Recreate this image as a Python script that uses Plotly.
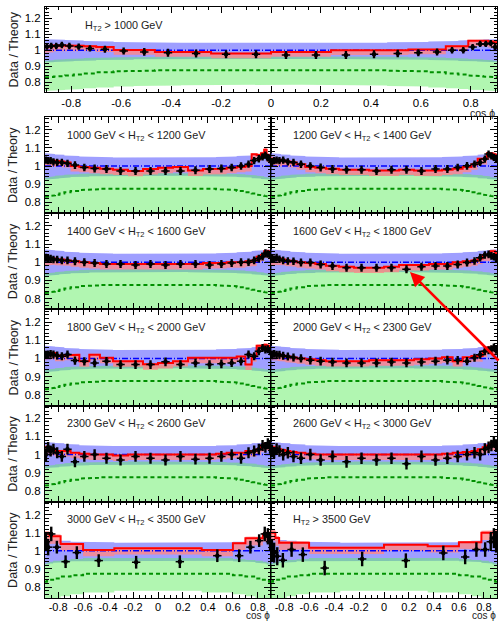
import plotly.graph_objects as go

# ---------------- binning ----------------
edges_fine = [-0.905, -0.89, -0.87, -0.85, -0.825, -0.79, -0.75, -0.70, -0.63, -0.55, -0.465, -0.36, -0.24, -0.12, 0.0,
              0.12, 0.24, 0.36, 0.465, 0.55, 0.63, 0.70, 0.75, 0.79, 0.825, 0.85, 0.87, 0.89, 0.905]
edges_coarse = [-0.905, -0.89, -0.87, -0.84, -0.78, -0.70, -0.60, -0.35, 0.0, 0.35, 0.60, 0.70, 0.78, 0.84, 0.87, 0.89, 0.905]

# ---------------- shared uncertainty bands ----------------
blue_hi_fine = [1.07, 1.07, 1.068, 1.066, 1.064, 1.062, 1.058, 1.055, 1.052, 1.05, 1.048, 1.047, 1.046, 1.045,
                1.045, 1.046, 1.047, 1.048, 1.05, 1.052, 1.055, 1.058, 1.062, 1.064, 1.066, 1.068, 1.07, 1.07]
blue_lo_fine = [0.925, 0.925, 0.927, 0.929, 0.931, 0.933, 0.936, 0.939, 0.941, 0.943, 0.944, 0.945, 0.946, 0.946,
                0.946, 0.946, 0.945, 0.944, 0.943, 0.941, 0.939, 0.936, 0.933, 0.931, 0.929, 0.927, 0.925, 0.925]
green_mid_fine = [0.83, 0.832, 0.835, 0.838, 0.842, 0.848, 0.855, 0.862, 0.868, 0.872, 0.875, 0.877, 0.878, 0.878,
                  0.878, 0.878, 0.877, 0.875, 0.872, 0.868, 0.862, 0.855, 0.848, 0.842, 0.838, 0.835, 0.832, 0.83]
green_hi_fine = [0.935, 0.937, 0.94, 0.943, 0.946, 0.949, 0.952, 0.955, 0.957, 0.959, 0.96, 0.961, 0.962, 0.962,
                 0.962, 0.962, 0.961, 0.96, 0.959, 0.957, 0.955, 0.952, 0.949, 0.946, 0.943, 0.94, 0.937, 0.935]
green_lo_top = [0.745, 0.746, 0.748, 0.75, 0.753, 0.757, 0.762, 0.767, 0.772, 0.776, 0.779, 0.781, 0.783, 0.784,
                0.784, 0.783, 0.781, 0.779, 0.776, 0.772, 0.767, 0.762, 0.757, 0.753, 0.75, 0.748, 0.746, 0.745]
green_lo_fine = [0.68, 0.682, 0.685, 0.688, 0.692, 0.697, 0.702, 0.708, 0.713, 0.717, 0.72, 0.722, 0.723, 0.724,
                 0.724, 0.723, 0.722, 0.72, 0.717, 0.713, 0.708, 0.702, 0.697, 0.692, 0.688, 0.685, 0.682, 0.68]
red_up_fine = [0.012, 0.01, 0.009, 0.008, 0.007, 0.006, 0.006, 0.005, 0.005, 0.005, 0.005, 0.005, 0.005, 0.005,
               0.005, 0.005, 0.005, 0.005, 0.005, 0.005, 0.005, 0.006, 0.006, 0.007, 0.008, 0.009, 0.01, 0.012]
red_dn_fine = [0.04, 0.038, 0.036, 0.034, 0.032, 0.031, 0.03, 0.03, 0.03, 0.03, 0.03, 0.03, 0.03, 0.03,
               0.03, 0.03, 0.03, 0.03, 0.03, 0.03, 0.03, 0.03, 0.031, 0.032, 0.034, 0.036, 0.038, 0.04]

blue_hi_coarse = [1.07, 1.07, 1.065, 1.06, 1.055, 1.05, 1.047, 1.045, 1.045, 1.047, 1.05, 1.055, 1.06, 1.065, 1.07, 1.07]
blue_lo_coarse = [0.925, 0.925, 0.93, 0.934, 0.938, 0.942, 0.945, 0.946, 0.946, 0.945, 0.942, 0.938, 0.934, 0.93, 0.925, 0.925]
green_mid_coarse = [0.83, 0.835, 0.84, 0.848, 0.858, 0.866, 0.874, 0.878, 0.878, 0.874, 0.866, 0.858, 0.848, 0.84, 0.835, 0.83]
green_hi_coarse = [0.93, 0.935, 0.94, 0.945, 0.95, 0.955, 0.96, 0.962, 0.962, 0.96, 0.955, 0.95, 0.945, 0.94, 0.935, 0.93]
green_lo_coarse = [0.72, 0.725, 0.73, 0.74, 0.75, 0.76, 0.77, 0.78, 0.78, 0.77, 0.76, 0.75, 0.74, 0.73, 0.725, 0.72]
red_up_coarse = [0.015, 0.015, 0.012, 0.01, 0.008, 0.006, 0.005, 0.005, 0.005, 0.005, 0.006, 0.008, 0.01, 0.012, 0.015, 0.015]
red_dn_coarse = [0.045, 0.045, 0.042, 0.04, 0.038, 0.036, 0.035, 0.035, 0.035, 0.035, 0.036, 0.038, 0.04, 0.042, 0.045, 0.045]

# ---------------- per-panel values ----------------
data_top = [1.023, 1.027, 1.027, 1.033, 1.027, 1.023, 1.012, 1.006, 0.995, 0.99, 0.985, 0.98, 0.975, 0.975,
            0.97, 0.97, 0.97, 0.975, 0.98, 0.985, 0.99, 1.0, 1.0, 1.02, 1.04, 1.04, 1.045, 1.02]
err_top = [0.02, 0.02, 0.02, 0.02, 0.02, 0.02, 0.02, 0.022, 0.022, 0.024, 0.025, 0.025, 0.025, 0.025,
           0.025, 0.025, 0.025, 0.025, 0.024, 0.022, 0.022, 0.02, 0.02, 0.02, 0.02, 0.02, 0.02, 0.02]
red_top = [1.025, 1.025, 1.03, 1.03, 1.03, 1.028, 1.025, 1.02, 1.002, 1.002, 0.99, 0.99, 0.98, 0.98,
           0.99, 0.99, 1.0, 1.0, 1.0, 1.005, 1.005, 1.025, 1.025, 1.06, 1.06, 1.06, 1.055, 1.05]

data_1000 = [1.033, 1.03, 1.03, 1.023, 1.02, 1.02, 1.014, 1.005, 0.992, 0.986, 0.983, 0.973, 0.973, 0.973,
             0.973, 0.973, 0.977, 0.983, 0.986, 0.992, 1.0, 1.01, 1.03, 1.04, 1.05, 1.06, 1.045, 1.035]
err_1000 = [0.02, 0.02, 0.02, 0.02, 0.02, 0.02, 0.02, 0.021, 0.021, 0.022, 0.022, 0.022, 0.022, 0.022,
            0.022, 0.022, 0.022, 0.022, 0.022, 0.021, 0.021, 0.02, 0.02, 0.02, 0.02, 0.02, 0.02, 0.02]
red_1000 = [1.035, 1.035, 1.03, 1.03, 1.028, 1.025, 1.02, 1.0, 0.995, 0.99, 0.985, 0.98, 0.973, 0.983,
            0.99, 0.995, 0.975, 0.983, 0.985, 0.99, 0.995, 1.0, 1.065, 1.06, 1.07, 1.09, 1.06, 1.05]

data_1200 = [1.02, 1.029, 1.032, 1.029, 1.032, 1.023, 1.02, 1.01, 1.0, 0.992, 0.983, 0.979, 0.979, 0.973,
             0.979, 0.979, 0.973, 0.983, 0.983, 0.992, 1.001, 1.01, 1.02, 1.038, 1.066, 1.056, 1.047, 1.04]
err_1200 = [0.022, 0.02, 0.02, 0.02, 0.02, 0.02, 0.02, 0.021, 0.021, 0.022, 0.022, 0.022, 0.022, 0.022,
            0.022, 0.022, 0.022, 0.022, 0.022, 0.021, 0.021, 0.02, 0.02, 0.02, 0.02, 0.02, 0.02, 0.022]
red_1200 = [1.04, 1.04, 1.035, 1.035, 1.03, 1.025, 1.02, 1.01, 0.995, 0.99, 0.985, 0.98, 0.98, 0.975,
            0.975, 0.98, 0.975, 0.975, 0.98, 0.985, 0.995, 1.01, 1.04, 1.04, 1.07, 1.07, 1.065, 1.06]

data_1400 = [1.025, 1.02, 1.02, 1.015, 1.015, 1.01, 1.01, 1.005, 1.0, 0.995, 0.99, 0.99, 0.985, 0.99,
             0.985, 0.99, 0.99, 0.985, 0.99, 0.995, 1.0, 1.0, 1.01, 1.02, 1.03, 1.05, 1.045, 1.04]
err_1400 = [0.022, 0.021, 0.021, 0.021, 0.021, 0.021, 0.021, 0.022, 0.022, 0.022, 0.022, 0.022, 0.022, 0.022,
            0.022, 0.022, 0.022, 0.022, 0.022, 0.022, 0.022, 0.021, 0.021, 0.021, 0.021, 0.021, 0.021, 0.022]
red_1400 = [1.02, 1.02, 1.02, 1.02, 1.015, 1.015, 1.01, 1.005, 1.0, 0.995, 0.99, 0.99, 0.99, 0.99,
            0.99, 0.99, 0.99, 0.995, 0.995, 1.0, 1.0, 1.005, 1.01, 1.03, 1.04, 1.06, 1.06, 1.05]

data_1600 = [1.02, 1.016, 1.025, 1.016, 1.01, 1.007, 1.005, 0.998, 0.998, 0.988, 0.979, 0.97, 0.97, 0.97,
             0.97, 0.961, 0.975, 0.979, 0.979, 0.988, 0.998, 1.007, 1.025, 1.04, 1.043, 1.035, 1.03, 1.02]
err_1600 = [0.022, 0.021, 0.021, 0.021, 0.021, 0.021, 0.021, 0.022, 0.022, 0.022, 0.022, 0.022, 0.022, 0.022,
            0.022, 0.022, 0.022, 0.022, 0.022, 0.022, 0.022, 0.021, 0.021, 0.021, 0.021, 0.021, 0.021, 0.022]
red_1600 = [1.025, 1.025, 1.02, 1.02, 1.015, 1.01, 1.005, 1.0, 0.995, 0.99, 0.98, 0.975, 0.97, 0.97,
            0.975, 0.985, 0.985, 0.99, 0.99, 1.0, 1.005, 1.01, 1.02, 1.04, 1.04, 1.06, 1.06, 1.05]

data_1800 = [1.02, 1.021, 1.025, 1.021, 1.016, 1.012, 1.021, 0.988, 0.984, 0.975, 0.984, 0.966, 0.966, 0.966,
             0.981, 0.966, 0.975, 0.966, 0.97, 0.975, 0.984, 1.021, 1.012, 1.04, 1.058, 1.049, 1.05, 1.04]
err_1800 = [0.022, 0.022, 0.022, 0.022, 0.022, 0.022, 0.022, 0.023, 0.023, 0.024, 0.024, 0.024, 0.024, 0.024,
            0.024, 0.024, 0.024, 0.024, 0.024, 0.023, 0.023, 0.022, 0.022, 0.022, 0.022, 0.022, 0.022, 0.022]
red_1800 = [1.03, 1.03, 1.03, 1.03, 1.016, 1.016, 1.02, 1.02, 0.984, 1.02, 1.003, 0.984, 0.984, 0.968,
            0.975, 0.985, 1.003, 1.005, 1.005, 1.003, 1.01, 0.966, 1.012, 1.07, 1.07, 1.075, 1.07, 1.06]

data_2000 = [1.02, 1.025, 1.02, 1.02, 1.015, 1.01, 1.005, 1.0, 0.99, 0.985, 0.98, 0.975, 0.975, 0.975,
             0.98, 0.975, 0.98, 0.985, 0.99, 0.99, 0.985, 1.003, 1.02, 1.04, 1.045, 1.05, 1.06, 1.05]
err_2000 = [0.024, 0.022, 0.022, 0.022, 0.022, 0.022, 0.022, 0.023, 0.023, 0.024, 0.024, 0.024, 0.024, 0.024,
            0.024, 0.024, 0.024, 0.024, 0.024, 0.023, 0.023, 0.022, 0.022, 0.022, 0.022, 0.022, 0.022, 0.024]
red_2000 = [1.03, 1.03, 1.025, 1.02, 1.015, 1.01, 1.005, 1.0, 0.995, 0.99, 0.985, 0.985, 0.985, 0.99,
            0.99, 0.99, 0.995, 1.0, 1.006, 0.985, 1.006, 1.013, 1.013, 1.04, 1.06, 1.06, 1.06, 1.06]

data_2300 = [1.0, 1.04, 1.02, 1.03, 1.01, 0.99, 1.03, 0.96, 0.99, 1.0, 0.98, 0.97, 0.99, 0.98,
             0.97, 0.99, 0.975, 0.98, 0.99, 1.0, 0.98, 1.01, 1.02, 1.03, 1.05, 1.04, 1.06, 1.04]
err_2300 = [0.035, 0.03, 0.03, 0.03, 0.03, 0.03, 0.03, 0.03, 0.03, 0.03, 0.03, 0.03, 0.03, 0.03,
            0.03, 0.03, 0.03, 0.03, 0.03, 0.03, 0.03, 0.03, 0.03, 0.03, 0.03, 0.03, 0.03, 0.035]
red_2300 = [1.04, 1.04, 1.03, 1.03, 1.02, 1.02, 1.02, 1.01, 1.005, 1.0, 1.0, 0.995, 1.0, 1.0,
            1.0, 1.0, 1.0, 1.0, 1.005, 1.01, 1.01, 1.02, 1.02, 1.03, 1.05, 1.06, 1.06, 1.05]

data_2600 = [1.02, 1.01, 1.03, 1.02, 1.0, 1.01, 0.99, 0.98, 1.0, 0.97, 0.99, 0.96, 0.98, 0.97,
             0.98, 0.95, 0.99, 0.97, 0.98, 0.99, 1.0, 1.01, 1.0, 1.03, 1.04, 1.05, 1.07, 1.05]
err_2600 = [0.035, 0.032, 0.032, 0.032, 0.032, 0.032, 0.032, 0.032, 0.032, 0.032, 0.032, 0.032, 0.032, 0.032,
            0.032, 0.032, 0.032, 0.032, 0.032, 0.032, 0.032, 0.032, 0.032, 0.032, 0.032, 0.032, 0.032, 0.035]
red_2600 = [1.04, 1.04, 1.035, 1.03, 1.025, 1.02, 1.015, 1.01, 1.005, 1.0, 1.0, 1.0, 1.0, 1.0,
            1.0, 1.0, 1.0, 1.0, 1.005, 1.01, 1.015, 1.02, 1.03, 1.04, 1.05, 1.06, 1.06, 1.06]

data_3000 = [1.05, 1.02, 1.093, 1.02, 0.94, 0.99, 0.946, 0.937, 0.94, 0.973, 0.973, 1.02, 1.056, 1.093, 1.08, 1.05]
err_3000 = [0.05, 0.045, 0.04, 0.035, 0.035, 0.035, 0.035, 0.035, 0.035, 0.035, 0.035, 0.035, 0.035, 0.04, 0.045, 0.05]
red_3000 = [1.093, 1.093, 1.08, 1.08, 1.038, 1.038, 1.005, 1.014, 1.014, 1.005, 1.041, 1.069, 1.069, 1.093, 1.093, 1.093]

data_3500 = [1.0, 0.99, 0.97, 0.948, 1.007, 0.979, 0.905, 0.955, 0.946, 0.988, 0.966, 1.007, 1.007, 1.05, 1.07, 1.05]
err_3500 = [0.06, 0.055, 0.05, 0.04, 0.04, 0.04, 0.04, 0.04, 0.04, 0.04, 0.04, 0.04, 0.04, 0.05, 0.055, 0.06]
red_3500 = [1.1, 1.1, 1.07, 1.045, 1.045, 1.045, 1.017, 1.017, 1.034, 1.025, 1.047, 1.047, 1.1, 1.1, 1.1, 1.1]

labels = ["H<sub>T2</sub> > 1000 GeV",
          "1000 GeV < H<sub>T2</sub> < 1200 GeV", "1200 GeV < H<sub>T2</sub> < 1400 GeV",
          "1400 GeV < H<sub>T2</sub> < 1600 GeV", "1600 GeV < H<sub>T2</sub> < 1800 GeV",
          "1800 GeV < H<sub>T2</sub> < 2000 GeV", "2000 GeV < H<sub>T2</sub> < 2300 GeV",
          "2300 GeV < H<sub>T2</sub> < 2600 GeV", "2600 GeV < H<sub>T2</sub> < 3000 GeV",
          "3000 GeV < H<sub>T2</sub> < 3500 GeV", "H<sub>T2</sub> > 3500 GeV"]
x_tick_values = [-0.8, -0.6, -0.4, -0.2, 0.0, 0.2, 0.4, 0.6, 0.8]
y_tick_values = [0.8, 0.9, 1.0, 1.1, 1.2]

panels = [
    (data_top, err_top, red_top, "top"),
    (data_1000, err_1000, red_1000, "fine"), (data_1200, err_1200, red_1200, "fine"),
    (data_1400, err_1400, red_1400, "fine"), (data_1600, err_1600, red_1600, "fine"),
    (data_1800, err_1800, red_1800, "fine"), (data_2000, err_2000, red_2000, "fine"),
    (data_2300, err_2300, red_2300, "fine"), (data_2600, err_2600, red_2600, "fine"),
    (data_3000, err_3000, red_3000, "coarse"), (data_3500, err_3500, red_3500, "coarse"),
]

# ---------------- layout geometry (pixels) ----------------
W, H = 500, 622
XL, XM, XR = 45, 271, 497
TOP_T, TOP_B = 7.3, 91.7
ROW_T0, ROW_H = 117.0, 96.2
YMIN, YMAX = 0.74, 1.27
XMIN, XMAX = -0.905, 0.905

BLUE = "rgba(110,110,255,0.66)"
GREEN = "rgba(100,238,100,0.5)"
PINK = "rgba(255,135,135,0.8)"


def steps(edges, vals):
    xs, ys = [], []
    for i, v in enumerate(vals):
        xs += [edges[i], edges[i + 1]]
        ys += [v, v]
    return xs, ys


def band_poly(edges, lo, hi):
    xs, ys = steps(edges, hi)
    xl, yl = steps(edges, lo)
    return xs + xl[::-1] + [xs[0]], ys + yl[::-1] + [ys[0]]


fig = go.Figure()
layout = dict(width=W, height=H, margin=dict(l=0, r=0, t=0, b=0), paper_bgcolor="white",
              plot_bgcolor="rgba(0,0,0,0)", showlegend=False,
              font=dict(family="Liberation Sans, Arial, sans-serif", color="black"))
annotations = []

for k, (dat, err, red, scheme) in enumerate(panels):
    idx = k + 1
    xa = "x" if idx == 1 else f"x{idx}"
    ya = "y" if idx == 1 else f"y{idx}"
    if scheme in ("fine", "top"):
        edges, bhi, blo, gmid, ghi, rup, rdn = (edges_fine, blue_hi_fine, blue_lo_fine, green_mid_fine,
                                                green_hi_fine, red_up_fine, red_dn_fine)
        glo = green_lo_top if scheme == "top" else green_lo_fine
    else:
        edges, bhi, blo, gmid, ghi, rup, rdn = (edges_coarse, blue_hi_coarse, blue_lo_coarse, green_mid_coarse,
                                                green_hi_coarse, red_up_coarse, red_dn_coarse)
        glo = green_lo_coarse
    centers = [(edges[i] + edges[i + 1]) / 2 for i in range(len(dat))]
    common = dict(xaxis=xa, yaxis=ya, hoverinfo="skip", showlegend=False)

    bx, by = band_poly(edges, blo, bhi)
    fig.add_trace(go.Scatter(x=bx, y=by, fill="toself", fillcolor=BLUE, line=dict(width=0), mode="lines", **common))
    gx, gy = band_poly(edges, glo, ghi)
    fig.add_trace(go.Scatter(x=gx, y=gy, fill="toself", fillcolor=GREEN, line=dict(width=0), mode="lines", **common))
    rlo = [r - d for r, d in zip(red, rdn)]
    rhi = [r + u for r, u in zip(red, rup)]
    rx, ry = band_poly(edges, rlo, rhi)
    fig.add_trace(go.Scatter(x=rx, y=ry, fill="toself", fillcolor=PINK, line=dict(width=0), mode="lines", **common))
    # green dashed central line
    sx, sy = steps(edges, gmid)
    fig.add_trace(go.Scatter(x=sx, y=sy, mode="lines", line=dict(color="#009000", width=2, dash="4px,3px"), **common))
    # blue dash-dot reference at one
    fig.add_trace(go.Scatter(x=[XMIN, XMAX], y=[1.0, 1.0], mode="lines",
                             line=dict(color="#0000ff", width=1.5, dash="6px,2px,1px,2px"), **common))
    # red theory line
    sx, sy = steps(edges, red)
    fig.add_trace(go.Scatter(x=sx, y=sy, mode="lines", line=dict(color="#ff0000", width=2), **common))
    # data
    fig.add_trace(go.Scatter(x=centers, y=dat, mode="markers",
                             marker=dict(color="black", size=4.5, symbol="circle"),
                             error_y=dict(type="data", array=err, color="black", thickness=2.4, width=0),
                             **common))
    fig.add_trace(go.Scatter(x=centers, y=dat, mode="markers",
                             marker=dict(color="black", size=6, symbol="line-ew", line=dict(color="black", width=1.5)),
                             **common))

    # geometry
    if idx == 1:
        x0, x1, yt, yb = XL, XR, TOP_T, TOP_B
        col = 0
        row = 0
    else:
        r = (idx - 2) // 2 + 1
        col = (idx - 2) % 2
        x0, x1 = (XL, XM) if col == 0 else (XM, XR)
        yt = ROW_T0 + (r - 1) * ROW_H
        yb = yt + ROW_H
        row = r
    show_x = (idx == 1) or (row == 5)
    show_y = (col == 0)
    axkey_x = "xaxis" if idx == 1 else f"xaxis{idx}"
    axkey_y = "yaxis" if idx == 1 else f"yaxis{idx}"
    layout[axkey_x] = dict(domain=[x0 / W, x1 / W], anchor=ya, range=[XMIN, XMAX], showgrid=False, zeroline=False,
                           showline=True, linecolor="black", linewidth=1, mirror="allticks",
                           ticks="inside", ticklen=6, tickwidth=1, tickcolor="black",
                           tickvals=x_tick_values, ticktext=[f"{v:g}" if v >= 0 else f"-{-v:g}" for v in x_tick_values],
                           minor=dict(ticks="inside", ticklen=3, dtick=0.05, tick0=0, tickcolor="black"),
                           showticklabels=show_x, tickfont=dict(size=11 if row == 5 else 11.5, color="black"),
                           ticklabelstandoff=(-1 if row == 5 else 0))
    layout[axkey_y] = dict(domain=[1 - yb / H, 1 - yt / H], anchor=xa, range=[YMIN, YMAX], showgrid=False,
                           zeroline=False, showline=True, linecolor="black", linewidth=1, mirror="allticks",
                           ticks="inside", ticklen=7, tickwidth=1, tickcolor="black",
                           tickvals=y_tick_values, ticktext=[f"{v:g}" for v in y_tick_values],
                           minor=dict(ticks="inside", ticklen=3.5, dtick=0.02, tick0=0, tickcolor="black"),
                           showticklabels=show_y, tickfont=dict(size=11.5, color="black"), ticklabelstandoff=1)
    # panel label
    annotations.append(dict(x=(x0 + (38 if idx == 1 else 20)) / W, y=1 - (yt + 18.5) / H, xref="paper", yref="paper",
                            text=labels[k], showarrow=False, xanchor="left", yanchor="middle",
                            font=dict(size=10.8, color="#222222")))
    if show_y:
        annotations.append(dict(x=13 / W, y=1 - (yt + yb) / 2 / H, xref="paper", yref="paper", text="Data / Theory",
                                textangle=-90, showarrow=False, xanchor="center", yanchor="middle",
                                font=dict(size=12.5, color="#222222")))
    if show_x:
        if idx == 1:
            annotations.append(dict(x=x1 / W, y=1 - (yb + 21) / H, xref="paper", yref="paper",
                                    text="cos \u03d5", showarrow=False, xanchor="right", yanchor="middle",
                                    font=dict(size=10.5, color="#222222")))
        else:
            annotations.append(dict(x=x1 / W, y=1 - 622 / H, xref="paper", yref="paper",
                                    text="cos \u03d5", showarrow=False, xanchor="right", yanchor="bottom",
                                    font=dict(size=10, color="#222222"), borderpad=0))

# red arrow
annotations.append(dict(x=410 / W, y=1 - 272 / H, xref="paper", yref="paper", text="", showarrow=True,
                        ax=90, ay=90, arrowcolor="#ff0000", arrowwidth=2.6, arrowhead=2, arrowsize=1.1))
layout["annotations"] = annotations
fig.update_layout(**layout)
fig.write_html("out.html")
